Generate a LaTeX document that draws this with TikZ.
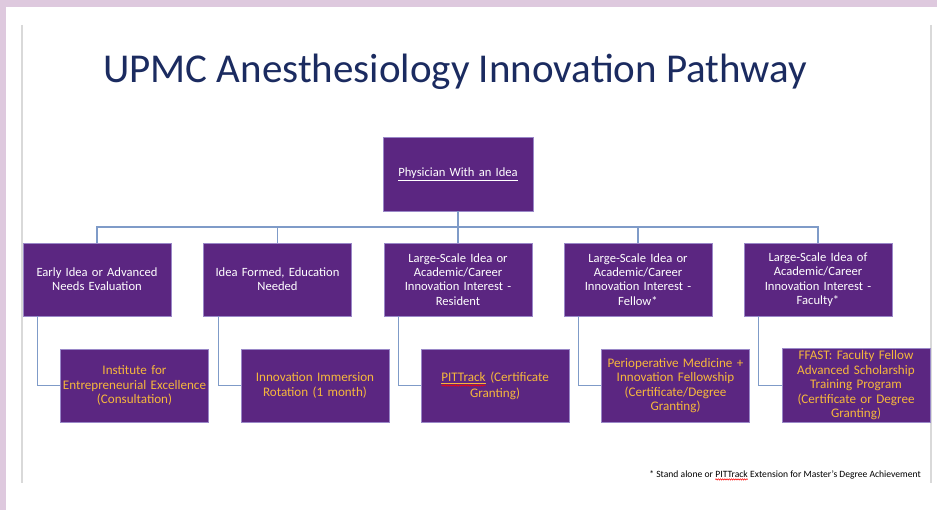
\documentclass[tikz,border=0pt]{standalone}
\usepackage{fontspec}
\setmainfont{Carlito}
\usetikzlibrary{decorations.pathmorphing}
\definecolor{bgpink}{HTML}{DEC9DE}
\definecolor{boxpurple}{HTML}{5B2681}
\definecolor{boxedge}{HTML}{9A88C8}
\definecolor{linkblue}{HTML}{7F9BC8}
\definecolor{goldtext}{HTML}{F6B73C}
\definecolor{navy}{HTML}{1B2B60}
\definecolor{framegray}{HTML}{D9D9D9}
\newcommand{\redwavy}[2][2.4pt]{\tikz[baseline=(w.base)]{\node[inner sep=0pt,outer sep=0pt,text width=,minimum width=0pt,minimum height=0pt,draw=none,fill=none,align=left](w){#2};\draw[red,line width=0.5pt,decorate,decoration={snake,amplitude=0.7pt,segment length=2.2pt}] ([yshift=-#1]w.base west) -- ([yshift=-#1]w.base east);}}
\tikzset{
 box/.style={draw=boxedge, line width=0.8pt, fill=boxpurple, minimum width=148pt, minimum height=73pt, inner sep=2pt, align=center, text width=144pt},
 lvltwo/.style={box, text=white, font=\fontsize{12.6}{14.3}\selectfont},
 lvlthree/.style={box, text=goldtext, font=\fontsize{13.1}{14.5}\selectfont},
 conn/.style={draw=linkblue, line width=1.2pt},
 frameline/.style={draw=framegray, line width=1.5pt},
}
\begin{document}
\begin{tikzpicture}[x=1pt,y=-1pt]
\useasboundingbox (0,0) rectangle (937,510);
\fill[white] (0,0) rectangle (937,510);
\fill[bgpink] (0,0) rectangle (937,7);
\fill[bgpink] (0,0) rectangle (6,510);
\coordinate (fl1) at (22,25); \coordinate (fl2) at (22,483);
\coordinate (fr1) at (931,25); \coordinate (fr2) at (931,483);
\draw[frameline] (fl1) -- (fl2);
\draw[frameline] (fr1) -- (fr2);

\node[anchor=base west, text=navy, font=\fontsize{41}{48}\selectfont, inner sep=0pt] (title) at (103,83) {UPMC Anesthesiology Innovation Pathway};

\node[lvltwo, minimum width=150pt, minimum height=74pt] (top) at (458,174) {\underline{Physician With an Idea}};

\node[lvltwo] (a2) at (97,279.5) {Early Idea or Advanced\\Needs Evaluation};
\node[lvltwo] (b2) at (277.5,279.5) {Idea Formed, Education\\Needed};
\node[lvltwo] (c2) at (458,279.5) {Large-Scale Idea or\\Academic/Career\\Innovation Interest -\\Resident};
\node[lvltwo] (d2) at (638,279.5) {Large-Scale Idea or\\Academic/Career\\Innovation Interest -\\Fellow*};
\node[lvltwo] (e2) at (818,279.5) {Large-Scale Idea of\\Academic/Career\\Innovation Interest -\\Faculty*};

\node[lvlthree] (a3) at (134.5,385.5) {Institute for\\Entrepreneurial Excellence\\(Consultation)};
\node[lvlthree] (b3) at (315,385.5) {Innovation Immersion\\Rotation (1 month)};
\node[lvlthree] (c3) at (495,385.5) {\redwavy[4.2pt]{\underline{PITTrack}} (Certificate\\Granting)};
\node[lvlthree] (d3) at (675.5,385.5) {Perioperative Medicine +\\Innovation Fellowship\\(Certificate/Degree\\Granting)};
\node[lvlthree] (e3) at (856,385.5) {FFAST: Faculty Fellow\\Advanced Scholarship\\Training Program\\(Certificate or Degree\\Granting)};

\coordinate (bus) at (458,227);
\draw[conn] (top.south) -- (bus);
\foreach \n in {a2,b2,c2,d2,e2}{
  \draw[conn] (\n.north) |- (bus);
}
\foreach \u/\l in {a2/a3,b2/b3,c2/c3,d2/d3,e2/e3}{
  \draw[conn] ([xshift=15pt]\u.south west) |- (\l.west);
}

\node[anchor=base east, inner sep=0pt, font=\fontsize{9.6}{11}\selectfont] (note) at (921,477) {* Stand alone or \redwavy{PITTrack} Extension for Master's Degree Achievement};
\end{tikzpicture}
\end{document}
